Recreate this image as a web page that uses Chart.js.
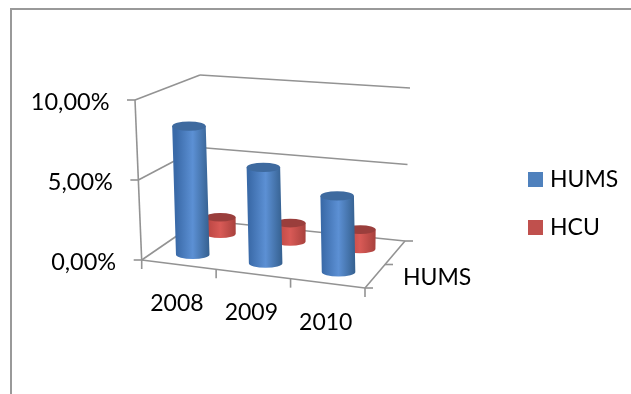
<!DOCTYPE html>
<html>
<head>
<meta charset="utf-8">
<script src="https://cdn.jsdelivr.net/npm/chart.js@4"></script>
<style>
  html, body { margin: 0; background: #fff; }
  #wrap { width: 631px; height: 394px; }
</style>
</head>
<body>
<div id="wrap"><canvas id="chart"></canvas></div>
<script>
/* Cylinder columns in a tilted 3D box. Chart.js lays out the bars and the scales,
   the plugin below projects them into the box and paints them. */
const years = ["2008", "2009", "2010"];
const humsValues = [8.15, 6.0, 4.7];
const hcuValues = [1.1, 1.2, 1.25];
const valueTicks = [0, 5, 10];
const depthLabel = "HUMS";

const FONT = "Lato, sans-serif";
const LINE = "#939393";
const TEXT = "#000";
const C = {
  blue: { key: "#4f81bd", edgeL: "#3a6aa8", mid: "#5c90d4", edgeR: "#35608f", top: "#3e6a9f" },
  red: { key: "#c0504d", edgeL: "#b5423f", mid: "#d85a56", edgeR: "#a8413d", top: "#9a3e3c" },
};

// corners of the box, named [category end][depth end][value end]
const box = {
  f0: { x: 141.7, y: 260 }, f0t: { x: 135, y: 100 },
  f1: { x: 365, y: 288 }, f1t: { x: 360, y: 122 },
  b0: { x: 200, y: 220 }, b0t: { x: 200, y: 75 },
  b1: { x: 405, y: 241 }, b1t: { x: 410, y: 88 },
};
const seriesDepth = [0.25, 0.75]; // HUMS in front, HCU behind

const mix = (a, b, t) => ({ x: a.x + (b.x - a.x) * t, y: a.y + (b.y - a.y) * t });
function project(u, v, w) {
  const front = mix(mix(box.f0, box.f1, u), mix(box.f0t, box.f1t, u), w);
  const back = mix(mix(box.b0, box.b1, u), mix(box.b0t, box.b1t, u), w);
  return mix(front, back, v);
}

function seg(ctx, a, b) {
  ctx.beginPath();
  ctx.moveTo(a.x, a.y);
  ctx.lineTo(b.x, b.y);
  ctx.stroke();
}

function drawBox(ctx, chart) {
  const y = chart.scales.y;
  ctx.strokeStyle = LINE;
  ctx.lineWidth = 1.6;

  // value gridlines on the left and back walls, plus their ticks
  y.getTicks().forEach((t) => {
    const w = (y.bottom - y.getPixelForValue(t.value)) / (y.bottom - y.top);
    const a = project(0, 0, w), b = project(0, 1, w), c = project(1, 1, w);
    seg(ctx, a, b);
    seg(ctx, b, c);
    seg(ctx, { x: a.x - 8, y: a.y }, a);
  });
  seg(ctx, project(0, 0, 0), project(0, 0, 1));

  // floor edges
  seg(ctx, project(0, 0, 0), project(1, 0, 0));
  seg(ctx, project(1, 0, 0), project(1, 1, 0));

  // category ticks run down from the front edge
  [0, 1 / 3, 2 / 3, 1].forEach((u) => {
    const p = project(u, 0, 0);
    seg(ctx, p, { x: p.x, y: p.y + 9 });
  });
  // depth ticks run right from the side edge
  [0, 0.5, 1].forEach((v) => {
    const p = project(1, v, 0);
    seg(ctx, p, { x: p.x + 8, y: p.y });
  });
}

function drawCylinder(ctx, bottom, top, rx, ry, col) {
  const grad = ctx.createLinearGradient(bottom.x - rx, 0, bottom.x + rx, 0);
  grad.addColorStop(0, col.edgeL);
  grad.addColorStop(0.5, col.mid);
  grad.addColorStop(1, col.edgeR);
  ctx.fillStyle = grad;
  ctx.beginPath();
  ctx.moveTo(top.x - rx, top.y);
  ctx.lineTo(bottom.x - rx, bottom.y);
  ctx.ellipse(bottom.x, bottom.y, rx, ry, 0, Math.PI, 0, true);
  ctx.lineTo(top.x + rx, top.y);
  ctx.closePath();
  ctx.fill();
  ctx.fillStyle = col.top;
  ctx.beginPath();
  ctx.ellipse(top.x, top.y, rx, ry, 0, 0, Math.PI * 2);
  ctx.fill();
}

function drawBars(ctx, chart) {
  const { x, y } = chart.scales;
  const toU = (px) => (px - x.left) / (x.right - x.left);
  const toW = (px) => (y.bottom - px) / (y.bottom - y.top);
  const cols = [C.blue, C.red];

  // back row first so the front row overlaps it
  [1, 0].forEach((ds) => {
    chart.getDatasetMeta(ds).data.forEach((bar) => {
      const v = seriesDepth[ds];
      const u = toU(bar.x);
      const du = bar.width / 2 / (x.right - x.left);
      const bottom = project(u, v, toW(bar.base));
      const top = project(u, v, toW(bar.y));
      const rx = (project(u + du, v, 0).x - project(u - du, v, 0).x) / 2;
      drawCylinder(ctx, bottom, top, rx, rx * 0.28, cols[ds]);
    });
  });
}

function drawText(ctx, chart) {
  const { x, y } = chart.scales;
  ctx.fillStyle = TEXT;
  ctx.textBaseline = "middle";

  // value labels sit off the leaning left edge
  ctx.font = "23.5px " + FONT;
  ctx.textAlign = "right";
  y.getTicks().forEach((t) => {
    const w = (y.bottom - y.getPixelForValue(t.value)) / (y.bottom - y.top);
    const p = project(0, 0, w);
    ctx.fillText(t.label, p.x - 25.5, p.y + 2.5);
  });

  // category names follow the slope of the front edge
  ctx.font = "23px " + FONT;
  ctx.textAlign = "center";
  years.forEach((yr, i) => {
    const u = (x.getPixelForValue(i) - x.left) / (x.right - x.left);
    const p = project(u, 0, 0);
    ctx.fillText(yr, p.x - 2, p.y + 39);
  });

  ctx.textAlign = "left";
  const d = project(1, seriesDepth[0], 0);
  ctx.fillText(depthLabel, d.x + 28, d.y + 1);

  // key on the right
  chart.data.datasets.forEach((ds, i) => {
    const cy = 179.5 + i * 48;
    ctx.fillStyle = ds.backgroundColor;
    ctx.fillRect(528, cy - 7.5, 15, 15);
    ctx.fillStyle = TEXT;
    ctx.fillText(ds.label, 550, cy + 0.5);
  });
}

const boxPlugin = {
  id: "cylinderBox",
  beforeDraw(chart) {
    const { ctx } = chart;
    ctx.save();
    // outer frame, open on the right and at the bottom
    ctx.strokeStyle = "#999";
    ctx.lineWidth = 2;
    ctx.beginPath();
    ctx.moveTo(11, 394);
    ctx.lineTo(11, 9);
    ctx.lineTo(631, 9);
    ctx.stroke();
    ctx.restore();
  },
  // the flat bars are replaced by the projected cylinders
  beforeDatasetsDraw(chart) {
    const { ctx } = chart;
    ctx.save();
    drawBox(ctx, chart);
    drawBars(ctx, chart);
    drawText(ctx, chart);
    ctx.restore();
    return false;
  },
};

new Chart(document.getElementById("chart"), {
  type: "bar",
  data: {
    labels: years,
    datasets: [
      { label: "HUMS", data: humsValues, backgroundColor: C.blue.key, barPercentage: 0.46, categoryPercentage: 1, grouped: false },
      { label: "HCU", data: hcuValues, backgroundColor: C.red.key, barPercentage: 0.44, categoryPercentage: 1, grouped: false },
    ],
  },
  options: {
    responsive: true, maintainAspectRatio: false, animation: false,
    layout: { padding: { left: 12, right: 266, top: 100, bottom: 134 } },
    plugins: { legend: { display: false }, tooltip: { enabled: false } },
    scales: {
      x: { display: false },
      y: {
        min: 0, max: 10,
        afterFit: (s) => { s.width = 130; },
        afterBuildTicks: (s) => { s.ticks = valueTicks.map((value) => ({ value })); },
        grid: { display: false },
        border: { display: false },
        ticks: {
          display: false,
          callback: (v) => v.toFixed(2).replace(".", ",") + "%",
        },
      },
    },
  },
  plugins: [boxPlugin],
});
</script>
</body>
</html>
